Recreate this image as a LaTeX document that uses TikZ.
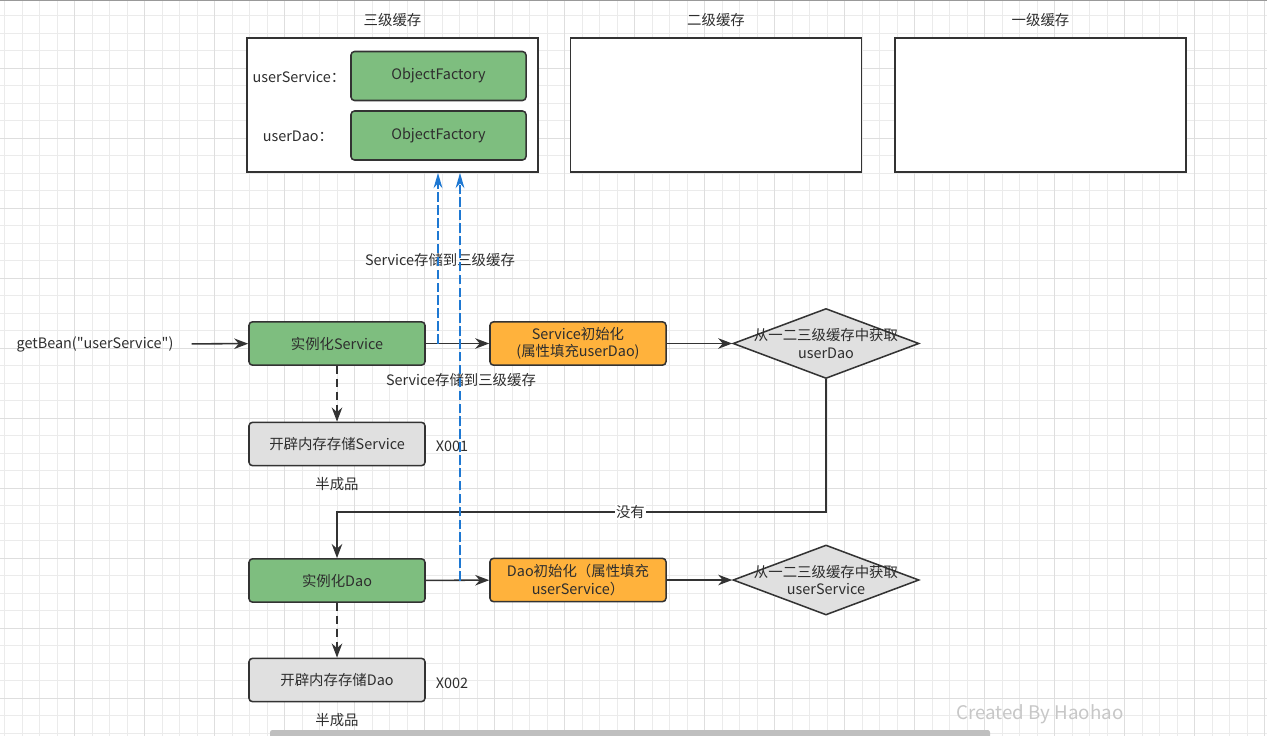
\documentclass[tikz,border=0pt]{standalone}
\usepackage{fontspec}
\setmainfont{Noto Sans CJK SC}[Ligatures=TeXOff]
\usepackage{tikz}
\usetikzlibrary{arrows.meta,shapes.geometric}
\definecolor{boxgreen}{RGB}{126,190,127}
\definecolor{boxorange}{RGB}{255,178,60}
\definecolor{boxgray}{RGB}{224,224,224}
\definecolor{linegray}{RGB}{51,51,51}
\definecolor{storeblue}{RGB}{30,120,210}

\begin{document}
\begin{tikzpicture}[x=0.03cm, y=-0.03cm, >={Stealth[length=12pt,width=9pt]}, font=\fontsize{12.3}{15}\selectfont, text=black!82]
		\tikzset{cache/.style={draw=linegray, line width=1.6pt, fill=white, minimum width=8.73cm, minimum height=4.02cm}}
		\tikzset{factory/.style={draw=linegray, line width=1.3pt, fill=boxgreen, rounded corners=3pt, minimum width=5.25cm, minimum height=1.47cm}}
		\tikzset{proc/.style={draw=linegray, line width=1.3pt, rounded corners=3pt, minimum width=5.28cm, minimum height=1.3cm, align=center, inner sep=1pt}}
		\tikzset{decide/.style={diamond, draw=linegray, line width=1.3pt, fill=boxgray, minimum width=5.58cm, minimum height=2.1cm, inner sep=0pt}}
		\tikzset{flow/.style={->, line width=1.3pt, draw=linegray}}
		\tikzset{alloc/.style={->, line width=1.3pt, draw=linegray, dash pattern=on 7pt off 4pt}}
		\tikzset{store/.style={-{Stealth[length=13pt,width=7.5pt]}, line width=1.2pt, draw=storeblue, dash pattern=on 8pt off 3pt}}
		\useasboundingbox (0,0) rectangle (1267,736);
		\fill[white] (0,0) rectangle (1267,736);
		% grid
		\foreach \gx in {4.5,22,...,1267} \draw[black!8, line width=0.5pt] (\gx,0) -- (\gx,736);
		\foreach \gy in {15.5,33,...,736} \draw[black!8, line width=0.5pt] (0,\gy) -- (1267,\gy);
		\foreach \gx in {74,144,...,1267} \draw[black!13, line width=0.7pt] (\gx,0) -- (\gx,736);
		\foreach \gy in {68,138,...,736} \draw[black!13, line width=0.7pt] (0,\gy) -- (1267,\gy);
		\draw[black!40, line width=0.8pt] (0,0.5) -- (1267,0.5);
		% caches
		\node[cache] (c3) at (392.5,105) {};
		\node[cache] (c2) at (716,105) {};
		\node[cache] (c1) at (1040.5,105) {};
		\node (c3t) at (392.5,20) {三级缓存};
		\node (c2t) at (716,20) {二级缓存};
		\node (c1t) at (1040.5,20) {一级缓存};
		\node[factory] (f1) at (438.5,76) {ObjectFactory};
		\node[factory] (f2) at (438.5,135.5) {ObjectFactory};
		\node (k1) at (299,77) {userService：};
		\node (k2) at (298,136) {userDao：};
		% 1) service
		\node (get) at (95,344) {getBean("userService")};
		\node[proc, fill=boxgreen] (s1) at (337,343.5) {实例化Service};
		\node[proc, fill=boxgray] (m1) at (337,444) {开辟内存存储Service};
		\node[proc, fill=boxorange] (i1) at (578,343.5) {Service初始化\\(属性填充userDao)};
		\node[decide, label={[align=center, inner sep=0pt]center:从一二三级缓存中获取\\userDao}] (d1) at (826,343.5) {};
		\node (x1) at (452,446) {X001};
		\node (h1) at (337,484) {半成品};
		\node (l1) at (440,260) {Service存储到三级缓存};
		\node (l2) at (461,380) {Service存储到三级缓存};
		\draw[flow, shorten <=12pt] (get) -- (s1);
		\draw[alloc] (s1) -- (m1);
		\draw[flow] (s1) -- (i1);
		\draw[flow] (i1) -- (d1);
		\coordinate (p1) at (438,343.5);
		\draw[store] (p1) -- (c3.south -| p1);
		% 2) dao
		\node[proc, fill=boxgreen] (s2) at (337,580.5) {实例化Dao};
		\node[proc, fill=boxgray] (m2) at (337,680) {开辟内存存储Dao};
		\node[proc, fill=boxorange] (i2) at (578,580) {Dao初始化（属性填充\\userService）};
		\node[decide, label={[align=center, inner sep=0pt]center:从一二三级缓存中获取\\userService}] (d2) at (826,580) {};
		\node (x2) at (452,683) {X002};
		\node (h2) at (337,720) {半成品};
		\coordinate (turn) at (826,512);
		\draw[flow] (d1.south) -- (turn) -| node[pos=0.2, fill=white, inner sep=1pt] (no) {没有} (s2.north);
		\draw[alloc] (s2) -- (m2);
		\draw[flow] (s2) -- (i2);
		\draw[flow] (i2) -- (d2);
		\coordinate (p2) at (460,580.5);
		\draw[store] (p2) -- (c3.south -| p2);
		% screen
		\node[text=black!22, font=\fontsize{16}{18}\selectfont] (mark) at (1040,714) {Created By Haohao};
		\fill[black!25, rounded corners=2pt] (270,730) rectangle (990,738);
	\end{tikzpicture}
\end{document}
